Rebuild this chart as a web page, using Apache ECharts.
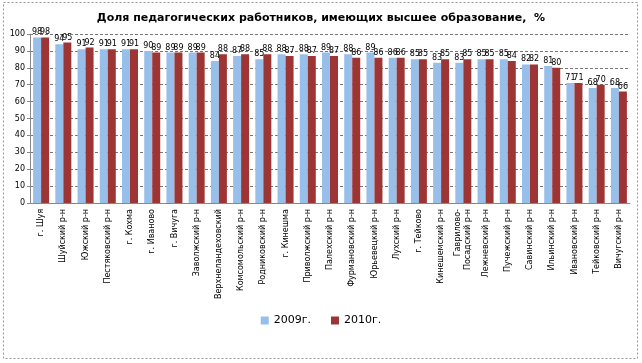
<!DOCTYPE html>
<html><head><meta charset="utf-8">
<script src="https://cdn.jsdelivr.net/npm/echarts@6/dist/echarts.min.js"></script>
<style>html,body{margin:0;padding:0;background:#fff}#c{width:642px;height:363px}</style>
</head><body><div id="c"></div>
<script>
const categories = ['г. Шуя','Шуйский р-н','Южский р-н','Пестяковский р-н','г. Кохма','г. Иваново','г. Вичуга','Заволжский р-н','Верхнеландеховский','Комсомольский р-н','Родниковский р-н','г. Кинешма','Приволжский р-н','Палехский р-н','Фурмановский р-н','Юрьевецкий р-н','Лухский р-н','г. Тейково','Кинешемский р-н','Гаврилово-\nПосадский р-н','Лежневский р-н','Пучежский р-н','Савинский р-н','Ильинский р-н','Ивановский р-н','Тейковский р-н','Вичугский р-н'];
const values2009 = [98,94,91,91,91,90,89,89,84,87,85,88,88,89,88,89,86,85,83,83,85,85,82,81,71,68,68];
const values2010 = [98,95,92,91,91,89,89,89,88,88,88,87,87,87,86,86,86,85,85,85,85,84,82,80,71,70,66];
const yTicks = {min:0, max:100, interval:10};

const chart = echarts.init(document.getElementById('c'));
const lbl = {show:true, position:'top', fontSize:8, color:'#000', distance:1, fontFamily:'DejaVu Sans'};
chart.setOption({
  animation:false,
  title:{text:'Доля педагогических работников, имеющих высшее образование,  %', left:'center', top:8,
    textStyle:{fontSize:11, fontWeight:'bold', color:'#000', fontFamily:'DejaVu Sans'}},
  graphic:[{type:'rect', shape:{x:3.5,y:2.5,width:634,height:356}, style:{fill:'none', stroke:'#999', lineDash:[2,2], lineWidth:1}, silent:true}],
  grid:{left:30, right:12, top:34, bottom:160},
  legend:{bottom:32, left:'center', itemWidth:8, itemHeight:8, itemGap:20, icon:'rect',
    textStyle:{fontSize:11, color:'#000', fontFamily:'DejaVu Sans'}, data:['2009г.','2010г.']},
  xAxis:{type:'category', data:categories,
    axisLine:{lineStyle:{color:'#888'}}, axisTick:{show:false},
    axisLabel:{rotate:90, interval:0, fontSize:8, color:'#000', margin:6, fontFamily:'DejaVu Sans', lineHeight:10}},
  yAxis:{type:'value', min:yTicks.min, max:yTicks.max, interval:yTicks.interval,
    axisLine:{show:true, lineStyle:{color:'#888'}}, axisTick:{show:true, length:3, lineStyle:{color:'#888'}},
    axisLabel:{fontSize:8, color:'#000', margin:5, fontFamily:'DejaVu Sans'},
    splitLine:{lineStyle:{color:'#777', type:[3,2]}}},
  series:[
    {name:'2009г.', type:'bar', data:values2009, barGap:'0%', barCategoryGap:'28%', itemStyle:{color:'#97bfea'}, label:lbl},
    {name:'2010г.', type:'bar', data:values2010, itemStyle:{color:'#9e3535'}, label:lbl}
  ]
});
</script></body></html>
